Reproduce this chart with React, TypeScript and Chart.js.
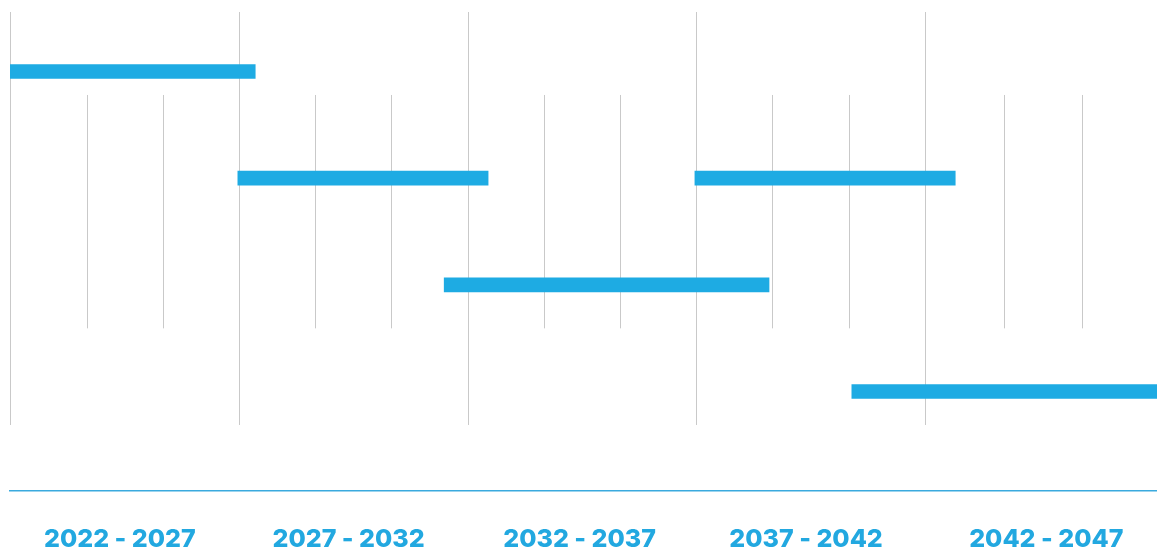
import React, { useEffect, useRef } from "react";
import { Chart, registerables } from "chart.js";

Chart.register(...registerables);

// Period labels shown under the axis and their centre positions (years)
const periodLabels = ["2022 - 2027", "2027 - 2032", "2032 - 2037", "2037 - 2042", "2042 - 2047"];
const periodCenters = [2024.4, 2029.4, 2034.45, 2039.4, 2044.65];

// Timeline segments: row index, start year, end year
const segmentRows = [0, 1, 1, 2, 3];
const segmentStarts = [2022, 2026.98, 2036.97, 2031.49, 2040.4];
const segmentEnds = [2027.36, 2032.45, 2042.66, 2038.59, 2047.2];

// Vertical guide lines (years) with their vertical extents (row units)
const majorLines = [2022, 2027, 2032, 2037, 2042];
const majorSpan = [-0.558, 3.314];
const minorLines = [2023.68, 2025.34, 2028.67, 2030.33, 2033.67, 2035.33, 2038.66, 2040.34, 2043.73, 2045.43];
const minorSpan = [0.22, 2.408];

const BLUE = "#1eabe3";

const guidePlugin = {
  id: "guides",
  beforeDatasetsDraw(chart: any) {
    const { ctx, scales } = chart;
    const xs = scales.x;
    const ys = scales.y;
    ctx.save();
    ctx.strokeStyle = "#c9c9c9";
    ctx.lineWidth = 1;
    const draw = (vals: number[], span: number[]) => {
      vals.forEach((v) => {
        const px = Math.round(xs.getPixelForValue(v)) + 0.5;
        ctx.beginPath();
        ctx.moveTo(px, ys.getPixelForValue(span[0]));
        ctx.lineTo(px, ys.getPixelForValue(span[1]));
        ctx.stroke();
      });
    };
    draw(majorLines, majorSpan);
    draw(minorLines, minorSpan);
    ctx.restore();
  },
};

export default function App() {
  const ref = useRef<HTMLCanvasElement | null>(null);
  useEffect(() => {
    if (!ref.current) return;
    const data = segmentRows.map((r, i) => ({ y: r, x: [segmentStarts[i], segmentEnds[i]] }));
    const chart = new Chart(ref.current, {
      type: "bar",
      data: {
        datasets: [
          {
            data: data as any,
            backgroundColor: BLUE,
            borderWidth: 0,
            barThickness: 14,
          },
        ],
      },
      options: {
        indexAxis: "y",
        animation: false,
        responsive: false,
        maintainAspectRatio: false,
        layout: { padding: { left: 10, top: 12, right: 0, bottom: 0 } },
        plugins: { legend: { display: false }, tooltip: { enabled: false } },
        scales: {
          y: {
            type: "linear",
            reverse: true,
            offset: false,
            min: -0.558,
            max: 3.933,
            display: false,
          },
          x: {
            type: "linear",
            min: 2022,
            max: 2047.07,
            grid: { display: false, drawTicks: false },
            border: { display: true, color: "#3aaade", width: 1.5 },
            afterBuildTicks: (scale: any) => {
              scale.ticks = periodCenters.map((v) => ({ value: v }));
            },
            afterFit: (scale: any) => {
              scale.height = 56;
            },
            ticks: {
              autoSkip: false,
              maxRotation: 0,
              padding: 33,
              color: "#22a8e0",
              font: { family: "Inter", size: 25, weight: "800" },
              callback: (_v: any, i: number) => periodLabels[i],
            },
          },
        },
      },
      plugins: [guidePlugin],
    });
    return () => chart.destroy();
  }, []);
  return (
    <div style={{ position: "absolute", left: 0, top: 0, width: 1157, height: 547 }}>
      <canvas ref={ref} width={1157} height={547} style={{ width: 1157, height: 547 }} />
    </div>
  );
}
